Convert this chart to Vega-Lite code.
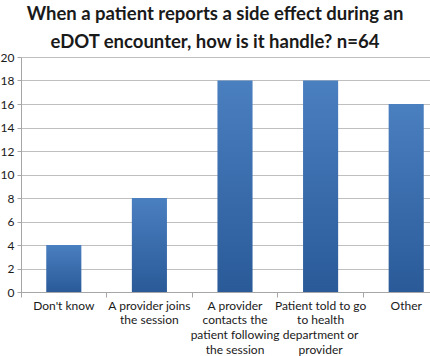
{
  "$schema": "https://vega.github.io/schema/vega-lite/v6.json",
  "autosize": "none",
  "width": 428,
  "height": 235,
  "padding": {"left": 21, "top": 57, "right": 0, "bottom": 64},
  "background": "white",
  "title": {
    "text": ["When a patient reports a side effect during an", "eDOT encounter, how is it handle? n=64"],
    "font": "Lato",
    "fontSize": 18.5,
    "fontWeight": "bold",
    "color": "#1a1a1a",
    "anchor": "middle",
    "dx": -20,
    "offset": 0,
    "lineHeight": 28
  },
  "data": {
    "values": [
      {"category": "Don't know", "value": 4},
      {"category": "A provider joins|the session", "value": 8},
      {"category": "A provider|contacts the|patient following|the session", "value": 18},
      {"category": "Patient told to go|to health|department or|provider", "value": 18},
      {"category": "Other", "value": 16}
    ]
  },
  "mark": {
    "type": "bar",
    "width": {"band": 0.41},
    "color": {
      "gradient": "linear",
      "x1": 0, "y1": 0, "x2": 0, "y2": 1,
      "stops": [
        {"offset": 0, "color": "#4a7fc0"},
        {"offset": 1, "color": "#2a5a98"}
      ]
    }
  },
  "encoding": {
    "x": {
      "field": "category",
      "type": "nominal",
      "sort": null,
      "scale": {"paddingInner": 0, "paddingOuter": 0},
      "axis": {
        "title": null,
        "labelAngle": 0,
        "labelExpr": "split(datum.label, '|')",
        "labelFont": "Lato",
        "labelFontSize": 12,
        "labelColor": "#1a1a1a",
        "labelLineHeight": 14.7,
        "labelPadding": 3,
        "labelLimit": 200,
        "bandPosition": 0,
        "domainColor": "#a6a6a6",
        "tickColor": "#a6a6a6",
        "tickSize": 5,
        "grid": false
      }
    },
    "y": {
      "field": "value",
      "type": "quantitative",
      "scale": {"domain": [0, 20], "nice": false},
      "axis": {
        "title": null,
        "values": [0, 2, 4, 6, 8, 10, 12, 14, 16, 18, 20],
        "labelFont": "Lato",
        "labelFontSize": 12,
        "labelColor": "#1a1a1a",
        "labelPadding": 3,
        "domainColor": "#a6a6a6",
        "tickColor": "#a6a6a6",
        "tickSize": 4,
        "gridColor": "#bfbfbf",
        "gridWidth": 1.2
      }
    }
  },
  "config": {"view": {"stroke": null}}
}
